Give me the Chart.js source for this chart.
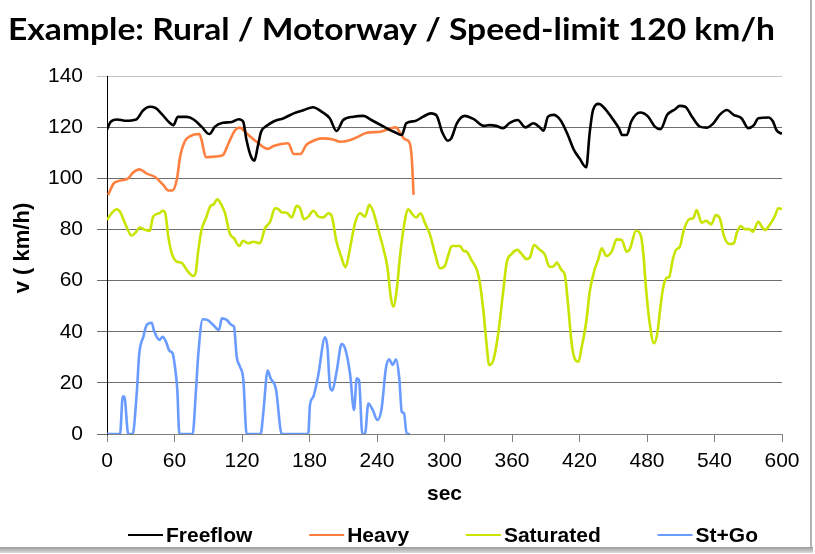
<!DOCTYPE html>
<html><head><meta charset="utf-8">
<script src="https://cdn.jsdelivr.net/npm/chart.js@4.4.1/dist/chart.umd.min.js"></script>
<style>html,body{margin:0;padding:0;background:#fff}canvas{display:block}</style>
</head><body>
<canvas id="c" width="815" height="554"></canvas>
<script>
const titleText = 'Example: Rural / Motorway / Speed-limit 120 km/h';
const xTitle = 'sec';
const yTitle = 'v ( km/h)';
const seriesNames = ['Freeflow', 'Heavy', 'Saturated', 'St+Go'];
const seriesColors = ['#000000', '#FF7F3F', '#C8E400', '#6A9CFF'];
const xTicks = [0, 60, 120, 180, 240, 300, 360, 420, 480, 540, 600];
const yTicks = [0, 20, 40, 60, 80, 100, 120, 140];

// [sec, km/h]
const freeflow = [[0,119],[3,122],[9,123],[16,122.5],[26,123],[32,126.5],[38,128],[43,127.5],[49,125],[55,122],[59,120.8],[63,124],[71,124],[77,123],[84,120.2],[91,117.3],[96,120.2],[103,121.7],[111,122],[117,123.1],[121,122.2],[124,115],[128,108.5],[131,106.9],[134,112.4],[137,118.2],[142,120.5],[148,122.2],[157,123.5],[166,125.4],[175,126.7],[183,127.8],[191,126],[198,123.5],[204,118.5],[210,122.8],[219,124.1],[228,124.4],[235,122.8],[246,120.2],[255,118.2],[262,116.9],[266,121.5],[274,122.4],[281,124.1],[288,125.4],[293,124.5],[298,118],[303,114.7],[306,115.6],[311,121.5],[318,124.4],[326,123.1],[335,120.5],[340,120.8],[346,120.5],[352,119.6],[358,121.7],[365,122.8],[372,119.9],[379,121.5],[385,119.8],[388,118.6],[392,124.1],[397,124.8],[403,122.8],[409,117.6],[415,111.1],[420,107.8],[426,104.3],[429,117.6],[432,126.7],[437,129.1],[441,128],[449,123.5],[455,119.6],[458,116.9],[462,116.9],[466,122.2],[474,125.7],[481,124.1],[487,120.2],[492,119.2],[498,124.8],[505,127],[509,128.3],[514,128],[520,124.1],[527,120.2],[533,119.8],[539,121.5],[545,125],[551,126.7],[557,124.8],[564,123.5],[570,119.6],[575,120.8],[579,123.5],[588,123.8],[592,122.2],[595,118.9],[600,117.3]];

const heavy = [[1,93.5],[6,98],[10,98.9],[19,100],[23,102.2],[29,103.5],[35,101.9],[43,100.4],[50,97.4],[54.5,95.2],[58,95.2],[62,99.3],[65,108.4],[69,114.3],[74,116.5],[82,117.3],[84,115],[88,108.2],[96,108.5],[103,109.1],[108,113.7],[114,118.9],[118,119.8],[124,117.6],[133,114.3],[143,111.5],[148,112.6],[155,113.4],[161,113.7],[166,109.5],[172,109.5],[177,113],[183,114.6],[191,115.6],[201,115.2],[207,114.3],[214,114.7],[222,116],[231,117.8],[243,118.2],[250,119.2],[257,119.9],[260,118.2],[265,115.2],[269,113.9],[271,107.2],[272.5,93.5]];

const saturated = [[0,83.7],[4,86.3],[8.6,87.9],[11.6,86.9],[16,82.4],[22,77.6],[26,79.1],[29,80.7],[34,79.8],[38,79.4],[41,85],[46.5,86.3],[49.5,87.3],[51.6,86.7],[54.5,77.2],[57.5,70.7],[62,67.4],[66,67],[72,63.5],[77,61.8],[79,63.5],[81,71.3],[84,79.8],[88,84.4],[91.6,88.9],[95,89.9],[98,91.8],[101,90.2],[105,86.3],[109,78.5],[113,76.5],[117.6,73.5],[121,75.6],[125.6,74.6],[130,75.2],[136,74.6],[140.4,80.4],[145,83],[149.3,88.3],[152.3,87.9],[155.3,86.7],[159.7,86.5],[164.2,84.7],[168.6,89.2],[171.6,88.3],[175,84],[179,85],[183.4,87.3],[188,85],[192.3,84.7],[196.7,86.3],[199.7,85.3],[204,75.2],[207.7,70],[212,65.2],[216,72.6],[220.4,82.4],[225,86.3],[229.3,85],[233.2,89.6],[236.7,86.9],[241.2,79.8],[245.6,72.6],[249.2,65.4],[252.2,53.7],[254.5,49.8],[257.5,56.3],[260.4,69.3],[263.4,79.8],[267.8,87.9],[270.8,86.3],[274.7,84.7],[278.8,86.3],[282.7,82.4],[287.1,78],[291.6,70.5],[296,64.8],[300.4,65.8],[303.4,70],[306.4,73.5],[313.8,73.5],[316.7,71.7],[319.7,71.3],[324,68],[328.6,64.4],[331,60.2],[334.5,48.5],[337,36.8],[339.8,27],[343.4,28.9],[347.8,39.4],[352.3,56.3],[355.2,66.8],[359.7,70.4],[364.7,72],[368.6,70.4],[373,68.4],[376,69.1],[379.6,73.9],[384.3,72.2],[389.3,70],[393.2,65.4],[396.7,65.4],[399.7,67],[404,64.1],[407,62.2],[410,49.8],[413,35.5],[416,29.2],[419,28.3],[422,34.1],[425.8,43.3],[429.3,56.3],[433.8,64.8],[436.7,68.3],[439.7,72.6],[444,69.6],[448.6,71.3],[453,76.1],[457.5,75.9],[462,71.3],[465,72.6],[470.2,79.5],[474.4,77.8],[476.7,70.7],[479,57.6],[482,44.6],[486.2,35.5],[489.2,39.4],[491.6,48.5],[494.5,57.6],[497.5,61.1],[499.8,61.5],[502.8,68],[505.8,72],[509.3,73.3],[512.3,79.1],[517.6,84],[521.2,84.4],[524.1,87.6],[528.6,82.6],[532.4,83.4],[537,82],[541.3,85.6],[545,84],[548.4,77.4],[553.2,74.3],[557.3,74.6],[559.7,78.5],[563.3,81.3],[567,80.1],[571,80.1],[574,79.1],[579,83],[582,81.1],[585,79.8],[588,81.1],[593.8,85.3],[596.7,88.3],[600,87.9]];

const stGo = [[0,0],[11.6,0],[14,14.6],[15.4,14.6],[18.9,0],[22.8,0],[26.4,15.8],[28.7,31.5],[32.3,38],[35.3,42.6],[39.7,43.5],[41.8,40.4],[46.5,36.8],[49.5,38],[52.4,36.1],[55.4,32.6],[58.4,31.5],[60.4,26.3],[62.5,17.2],[64.3,0],[76.1,0],[79.1,17.2],[81.2,31.5],[85.1,44.9],[89.2,44.6],[94.5,42.6],[99.6,40.7],[102,45.2],[106.4,44.6],[110.8,42.6],[112.9,42],[115.3,30.2],[118.2,26.3],[121.2,21.1],[124.1,0],[136.6,0],[138.9,8.1],[142.8,24.8],[145.4,21.8],[150.2,17.5],[155.3,0],[178.9,0],[180.4,11.3],[183.4,14.6],[187.8,23.1],[193.8,37.8],[195.9,34.1],[198.2,18.6],[200.3,17],[204.1,24.4],[208.6,35.2],[211.6,33.5],[216,23.7],[219.6,9.4],[222,21.8],[224,21.1],[227,0],[229.3,0],[232.3,11.9],[236.2,9.4],[240.3,5.5],[244.1,10],[247.9,25.7],[250.9,29.2],[253.9,27],[256.9,29.2],[259.8,21.8],[262,8.7],[264,8.1],[266.4,0],[269.3,0]];

const seriesData = [freeflow, heavy, saturated, stGo];

const FONT = '"Liberation Sans", Arial, sans-serif';

const datasets = seriesData.map((s, i) => ({
  label: seriesNames[i],
  data: s.map(p => ({x: p[0], y: p[1]})),
  borderColor: seriesColors[i],
  backgroundColor: seriesColors[i],
  borderWidth: 2.6,
  pointRadius: 0,
  cubicInterpolationMode: 'monotone',
  fill: false
}));

const decor = {
  id: 'decor',
  beforeDraw(chart) {
    const ctx = chart.ctx;
    ctx.save();
    ctx.fillStyle = '#ffffff';
    ctx.fillRect(0, 0, chart.width, chart.height);
    ctx.restore();
  },
  afterDraw(chart) {
    const ctx = chart.ctx;
    ctx.save();
    // title
    ctx.fillStyle = '#000';
    ctx.font = 'bold 30px Lato, "Open Sans", sans-serif';
    ctx.textBaseline = 'alphabetic';
    ctx.textAlign = 'left';
    const tw = ctx.measureText(titleText).width;
    const sx = 767 / tw;
    ctx.translate(8, 40);
    ctx.scale(sx, 1);
    ctx.fillText(titleText, 0, 0);
    ctx.restore();

    // y axis title
    ctx.save();
    ctx.fillStyle = '#000';
    ctx.font = 'bold 22px ' + FONT;
    ctx.textAlign = 'center';
    ctx.textBaseline = 'middle';
    ctx.translate(23, 248);
    ctx.rotate(-Math.PI / 2);
    ctx.fillText(yTitle, 0, 0);
    ctx.restore();

    // legend
    ctx.save();
    ctx.font = 'bold 21px ' + FONT;
    ctx.textBaseline = 'middle';
    const lineLen = 35, lineGap = 3;
    const widths = seriesNames.map(n => ctx.measureText(n).width);
    const itemW = widths.map(w => lineLen + lineGap + w);
    const sum = itemW.reduce((a, b) => a + b, 0);
    const x0 = 128, x1 = 758;
    const gap = (x1 - x0 - sum) / (seriesNames.length - 1);
    let x = x0;
    const ly = 535;
    seriesNames.forEach((n, i) => {
      ctx.strokeStyle = seriesColors[i];
      ctx.lineWidth = 2;
      ctx.beginPath();
      ctx.moveTo(x, ly);
      ctx.lineTo(x + lineLen, ly);
      ctx.stroke();
      ctx.fillStyle = '#000';
      ctx.fillText(n, x + lineLen + lineGap, ly + 1);
      x += itemW[i] + gap;
    });
    ctx.restore();

    // frame shadow
    ctx.save();
    ctx.fillStyle = '#b4b4b4';
    ctx.fillRect(810, 0, 2, 549);
    const g = ctx.createLinearGradient(0, 547, 0, 554);
    g.addColorStop(0, '#9a9a9a');
    g.addColorStop(1, '#e8e8e8');
    ctx.fillStyle = g;
    ctx.fillRect(0, 547, 813, 6);
    ctx.restore();
  }
};

new Chart(document.getElementById('c'), {
  type: 'line',
  data: { datasets },
  options: {
    responsive: false,
    animation: false,
    layout: { padding: { top: 76, right: 33, bottom: 0, left: 0 } },
    plugins: { legend: { display: false }, title: { display: false }, tooltip: { enabled: false } },
    scales: {
      x: {
        type: 'linear', min: 0, max: 600,
        afterBuildTicks: s => { s.ticks = xTicks.map(v => ({ value: v })); },
        afterFit: s => { s.height = 120; },
        grid: { drawOnChartArea: false, drawTicks: true, tickLength: 8, color: '#808080', lineWidth: 1 },
        border: { display: true, color: '#808080' },
        ticks: { color: '#000', font: { family: FONT, size: 21 }, padding: 7, maxRotation: 0, autoSkip: false },
        title: { display: true, text: xTitle, color: '#000', font: { family: FONT, size: 21, weight: 'bold' }, padding: { top: 0, bottom: 47 } }
      },
      y: {
        min: 0, max: 140,
        afterBuildTicks: s => { s.ticks = yTicks.map(v => ({ value: v })); },
        afterFit: s => { s.width = 107; },
        grid: { drawTicks: true, tickLength: 10, color: ctx => (ctx.tick && ctx.tick.value === 140) ? '#c4c4c4' : '#6e6e6e', lineWidth: 1 },
        border: { display: true, color: '#000' },
        ticks: { color: '#000', font: { family: FONT, size: 21 }, padding: 14 },
        title: { display: false }
      }
    }
  },
  plugins: [decor]
});
</script>
</body></html>
